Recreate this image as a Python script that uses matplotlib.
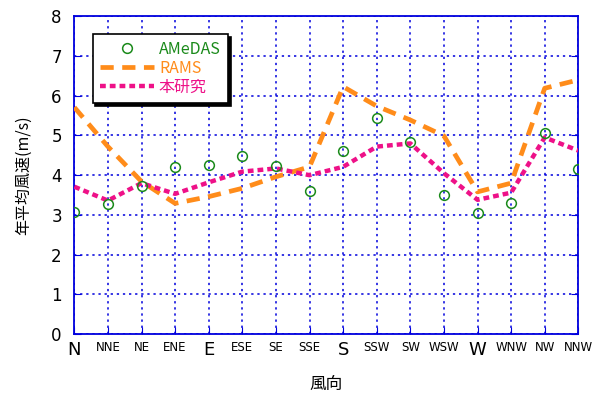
import numpy as np
import matplotlib.pyplot as plt

plt.rcParams['font.family'] = ['Noto Sans CJK JP', 'DejaVu Sans']

directions = ['N', 'NNE', 'NE', 'ENE', 'E', 'ESE', 'SE', 'SSE',
              'S', 'SSW', 'SW', 'WSW', 'W', 'WNW', 'NW', 'NNW']
amedas = [3.08, 3.27, 3.74, 4.21, 4.25, 4.48, 4.24, 3.59,
          4.61, 5.43, 4.83, 3.49, 3.06, 3.29, 5.06, 4.16]
rams = [5.71, 4.72, 3.84, 3.29, 3.46, 3.67, 3.96, 4.21,
        6.23, 5.74, 5.39, 4.99, 3.58, 3.80, 6.19, 6.40]
this_study = [3.71, 3.36, 3.80, 3.53, 3.82, 4.09, 4.17, 4.00,
              4.21, 4.72, 4.80, 4.05, 3.38, 3.56, 4.95, 4.62]

blue = '#0000dd'
x = np.arange(len(directions))

fig = plt.figure(figsize=(5.97, 3.94), dpi=100)
ax = fig.add_axes([0.1245, 0.1523, 0.8442, 0.8061])

ax.plot(x, amedas, 'o', ms=7, mfc='none', mec='#1a8a1a', mew=1.1,
        label='AMeDAS', zorder=4)
ax.plot(x, rams, color='#ff8c1a', lw=3.4, dashes=(2.8, 1.8),
        label='RAMS', zorder=3)
ax.plot(x, this_study, color='#ee1188', lw=3.2, dashes=(1.3, 0.9),
        label='本研究', zorder=3)

ax.set_xlim(0, 15)
ax.set_ylim(0, 8)
ax.set_xticks(x)
ax.set_xticklabels(directions, family='DejaVu Sans')
for lab in ax.get_xticklabels():
    lab.set_fontsize(13 if len(lab.get_text()) == 1 else 8.5)
ax.set_yticks(range(9))
ax.set_yticklabels([str(v) for v in range(9)], family='DejaVu Sans',
                   fontsize=12)
ax.tick_params(axis='both', direction='in', color=blue, length=5,
               right=True)
ax.tick_params(axis='x', pad=5)
ax.tick_params(axis='y', pad=9)

ax.grid(True, color=blue, ls=(0, (1.5, 2.5)), lw=1.1)
for sp in ax.spines.values():
    sp.set_color(blue)
    sp.set_linewidth(1.3)

ax.set_xlabel('風向', fontsize=12, labelpad=12)
ax.set_ylabel('年平均風速(m/s)', fontsize=11.5, labelpad=14)

leg = ax.legend(loc='upper left', bbox_to_anchor=(0.03, 0.955),
                fancybox=False, shadow={'color': 'black', 'alpha': 1.0},
                edgecolor='black', framealpha=1, fontsize=11.5,
                handlelength=3.4, handletextpad=0.3, borderpad=0.45,
                labelspacing=0.12, borderaxespad=0.2)
leg.get_frame().set_linewidth(1.2)
for txt, col in zip(leg.get_texts(), ['#1a8a1a', '#ff8c1a', '#ee1188']):
    txt.set_color(col)

fig.savefig('out.png', dpi=100)
